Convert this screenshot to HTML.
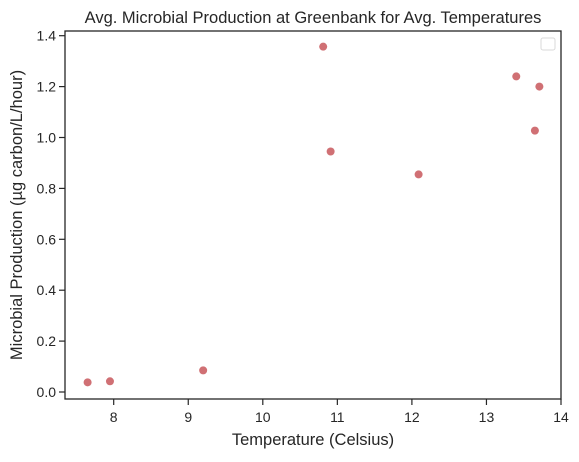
<!DOCTYPE html>
<html><head><meta charset="utf-8"><style>
body{margin:0;background:#fff;}
svg text{font-family:"Liberation Sans",sans-serif;fill:#262626;}
</style></head><body>
<svg width="579" height="457">
<rect width="579" height="457" fill="#fff"/>
<text x="313" y="23" font-size="16.5" text-anchor="middle">Avg. Microbial Production at Greenbank for Avg. Temperatures</text>
<g id="xt"></g>
<g id="yt"></g>
<g id="pts"></g>
<rect x="65" y="31" width="496" height="368" fill="none" stroke="#262626" stroke-width="1.3"/>
<rect x="541" y="38" width="14" height="12" rx="2" fill="#fff" stroke="#d9d9d9"/>
<text x="313" y="445" font-size="16.5" text-anchor="middle">Temperature (Celsius)</text>
<text transform="translate(22,215) rotate(-90)" font-size="16.5" text-anchor="middle">Microbial Production (µg carbon/L/hour)</text>
</svg>
<script>
const temps=[7.65,7.95,9.20,10.81,10.91,12.09,13.40,13.71,13.65];
const prod=[0.038,0.042,0.085,1.357,0.945,0.855,1.240,1.200,1.027];
const xTicks=[8,9,10,11,12,13,14];
const yTicks=[0.0,0.2,0.4,0.6,0.8,1.0,1.2,1.4];
const NS="http://www.w3.org/2000/svg";
function xs(v){return 113.7+(v-8)*74.55;}
function ys(v){return 392-v*254.5;}
function mk(t,a,p){const e=document.createElementNS(NS,t);for(const k in a)e.setAttribute(k,a[k]);p.appendChild(e);return e;}
const xg=document.getElementById('xt'),yg=document.getElementById('yt'),pg=document.getElementById('pts');
xTicks.forEach(v=>{
 const l=mk('line',{x1:xs(v),x2:xs(v),y1:399,y2:405,stroke:'#262626','stroke-width':1.2},xg);
 
 
 const t=mk('text',{x:xs(v),y:422,'font-size':14,'text-anchor':'middle'},xg);t.textContent=v;
 
 
});
yTicks.forEach(v=>{
 const l=mk('line',{x1:59,x2:65,y1:ys(v),y2:ys(v),stroke:'#262626','stroke-width':1.2},yg);
 
 
 const t=mk('text',{x:56,y:ys(v)+5,'font-size':14,'text-anchor':'end'},yg);t.textContent=v.toFixed(1);
 
 
});
temps.forEach((v,i)=>{
 const c=mk('circle',{cx:xs(v),cy:ys(prod[i]),r:4,fill:'#d07074'},pg);
 
 
});
</script>
</body></html>
